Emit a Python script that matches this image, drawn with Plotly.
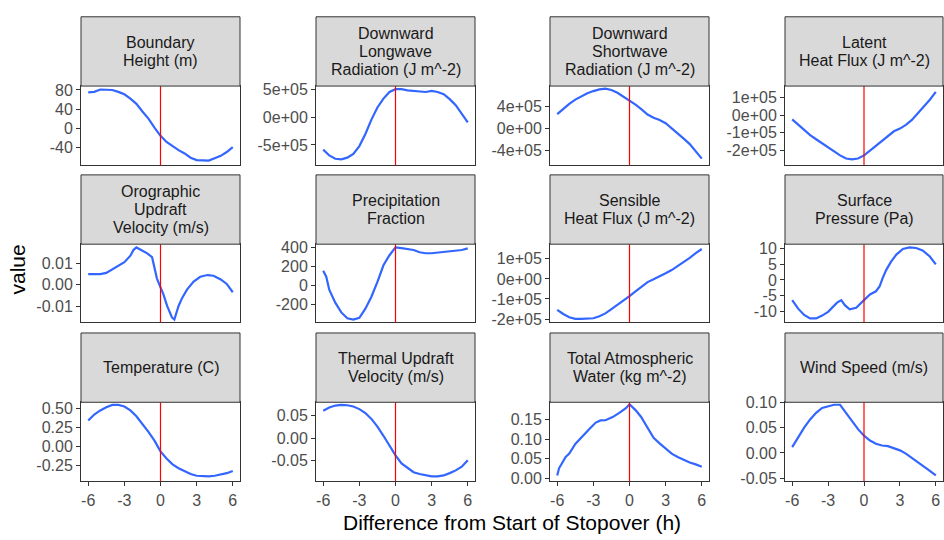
import plotly.graph_objects as go

# ---------------- data ----------------
titles = [
    "Boundary<br>Height (m)",
    "Downward<br>Longwave<br>Radiation (J m^-2)",
    "Downward<br>Shortwave<br>Radiation (J m^-2)",
    "Latent<br>Heat Flux (J m^-2)",
    "Orographic<br>Updraft<br>Velocity (m/s)",
    "Precipitation<br>Fraction",
    "Sensible<br>Heat Flux (J m^-2)",
    "Surface<br>Pressure (Pa)",
    "Temperature (C)",
    "Thermal Updraft<br>Velocity (m/s)",
    "Total Atmospheric<br>Water (kg m^-2)",
    "Wind Speed (m/s)",
]

hours = [-6, -5.5, -5, -4.5, -4, -3.5, -3, -2.5, -2, -1.5, -1, -0.5, 0,
         0.5, 1, 1.5, 2, 2.5, 3, 3.5, 4, 4.5, 5, 5.5, 6]

boundary_height = [75, 76, 81, 81, 80, 76, 71, 62, 51, 35, 20, 1, -16,
                   -29, -38, -46, -53, -62, -67, -68, -68, -63, -58, -50, -40]
longwave = [-5.85e5, -6.9e5, -7.5e5, -7.6e5, -7.3e5, -6.6e5, -5.2e5, -3.0e5, -0.4e5,
            1.8e5, 3.4e5, 4.6e5, 5.1e5, 5.1e5, 4.9e5, 4.8e5, 4.6e5, 4.6e5, 4.8e5,
            4.6e5, 4.2e5, 3.3e5, 2.2e5, 0.7e5, -0.9e5]
shortwave = [2.67e5, 3.67e5, 4.56e5, 5.33e5, 5.9e5, 6.5e5, 6.9e5, 7.2e5, 7.35e5,
             7.1e5, 6.6e5, 5.9e5, 5.15e5, 4.4e5, 3.55e5, 2.6e5, 2.0e5, 1.6e5, 1.0e5,
             0.1e5, -0.77e5, -1.84e5, -2.84e5, -4.2e5, -5.5e5]
latent = [-0.24e5, -0.55e5, -0.85e5, -1.13e5, -1.36e5, -1.6e5, -1.82e5, -2.05e5, -2.27e5,
          -2.45e5, -2.5e5, -2.45e5, -2.27e5, -2.0e5, -1.73e5, -1.42e5, -1.18e5, -0.91e5,
          -0.76e5, -0.55e5, -0.27e5, 0.09e5, 0.45e5, 0.87e5, 1.31e5]

orographic_hours = [-6, -5.5, -5, -4.5, -4, -3.5, -3, -2.5, -2.25, -2, -1.5, -1.1, -0.7,
                    -0.5, -0.3, 0, 0.25, 0.55, 0.95, 1.15, 1.5, 1.8, 2.2, 2.75, 3.3,
                    3.9, 4.4, 5, 5.5, 6]
orographic = [0.0049, 0.0049, 0.0049, 0.0055, 0.007, 0.0087, 0.0104, 0.0134, 0.016,
              0.0172, 0.0157, 0.0145, 0.0127, 0.0082, 0.003, -0.0012, -0.0045, -0.0097,
              -0.015, -0.016, -0.0097, -0.006, -0.0022, 0.0015, 0.0037, 0.0045, 0.0042,
              0.0025, 0.0004, -0.0034]

precip_hours = [-6, -5.75, -5.5, -5, -4.5, -4, -3.5, -3, -2.5, -2, -1.5, -1, -0.5, 0,
                0.5, 1, 1.5, 2, 2.5, 3, 3.5, 4, 4.5, 5, 5.5, 6]
precip = [157, 95, -41, -177, -279, -341, -354, -335, -240, -115, 40, 215, 320, 402,
          395, 385, 375, 351, 341, 341, 348, 361, 368, 375, 375, 392]

sensible = [-1.54e5, -1.75e5, -1.91e5, -1.99e5, -1.99e5, -1.99e5, -1.96e5, -1.86e5, -1.72e5,
            -1.51e5, -1.30e5, -1.07e5, -0.86e5, -0.62e5, -0.37e5, -0.16e5, -0.02e5, 0.11e5,
            0.28e5, 0.44e5, 0.63e5, 0.84e5, 1.05e5, 1.28e5, 1.49e5]

pressure_hours = [-6, -5.5, -5, -4.5, -4, -3.5, -3, -2.5, -2.25, -1.9, -1.6, -1.2, -0.65,
                  0, 0.5, 1, 1.3, 1.55, 1.85, 2.25, 2.7, 3.25, 3.8, 4.35, 4.9, 5.5, 6]
pressure = [-6.4, -9.1, -11.1, -12.2, -12.2, -11.3, -10.1, -8.2, -7.2, -6.4, -8.0, -9.3,
            -8.8, -6.4, -4.6, -3.6, -2.1, 0.5, 3.1, 5.7, 8.0, 9.8, 10.3, 10.1, 9.3, 7.4, 4.9]

temperature = [0.34, 0.42, 0.474, 0.517, 0.547, 0.547, 0.526, 0.474, 0.397, 0.30, 0.19,
               0.073, -0.069, -0.164, -0.241, -0.293, -0.328, -0.37, -0.392, -0.40, -0.40,
               -0.392, -0.379, -0.358, -0.328]
thermal = [0.060, 0.067, 0.0714, 0.0729, 0.0721, 0.0693, 0.0636, 0.055, 0.042, 0.025, 0.005,
           -0.0164, -0.0379, -0.0557, -0.0664, -0.075, -0.079, -0.082, -0.084, -0.084,
           -0.082, -0.077, -0.071, -0.063, -0.0486]

water_hours = [-6, -5.85, -5.3, -5, -4.5, -3.9, -3.35, -2.8, -2.4, -2, -1.4, -0.85, -0.3, 0,
               0.5, 0.95, 1.5, 1.8, 2, 2.5, 3, 3.5, 4, 4.5, 5, 5.5, 6]
water = [0.0067, 0.025, 0.054, 0.0625, 0.0875, 0.108, 0.125, 0.142, 0.1475, 0.148, 0.156,
         0.167, 0.179, 0.189, 0.174, 0.157, 0.128, 0.112, 0.103, 0.089, 0.076, 0.0625,
         0.054, 0.046, 0.04, 0.035, 0.029]

wind = [0.0117, 0.031, 0.0506, 0.0669, 0.0799, 0.0896, 0.0929, 0.0961, 0.0961, 0.0799,
        0.0636, 0.0474, 0.0344, 0.0247, 0.0182, 0.0149, 0.0136, 0.0097, 0.0052, -0.0013,
        -0.0097, -0.0175, -0.026, -0.0357, -0.0448]

series_x = [hours, hours, hours, hours, orographic_hours, precip_hours, hours,
            pressure_hours, hours, hours, water_hours, hours]
series_y = [boundary_height, longwave, shortwave, latent, orographic, precip, sensible,
            pressure, temperature, thermal, water, wind]

y_tickvals = [
    [80, 40, 0, -40],
    [5e5, 0, -5e5],
    [4e5, 0, -4e5],
    [1e5, 0, -1e5, -2e5],
    [0.01, 0, -0.01],
    [400, 200, 0, -200],
    [1e5, 0, -1e5, -2e5],
    [10, 5, 0, -5, -10],
    [0.5, 0.25, 0, -0.25],
    [0.05, 0, -0.05],
    [0.15, 0.10, 0.05, 0.0],
    [0.10, 0.05, 0.0, -0.05],
]
y_ticktext = [
    ["80", "40", "0", "-40"],
    ["5e+05", "0e+00", "-5e+05"],
    ["4e+05", "0e+00", "-4e+05"],
    ["1e+05", "0e+00", "-1e+05", "-2e+05"],
    ["0.01", "0.00", "-0.01"],
    ["400", "200", "0", "-200"],
    ["1e+05", "0e+00", "-1e+05", "-2e+05"],
    ["10", "5", "0", "-5", "-10"],
    ["0.50", "0.25", "0.00", "-0.25"],
    ["0.05", "0.00", "-0.05"],
    ["0.15", "0.10", "0.05", "0.00"],
    ["0.10", "0.05", "0.00", "-0.05"],
]
y_ranges = [
    [-77.5, 88.2],
    [-8.65e5, 5.67e5],
    [-6.7e5, 7.82e5],
    [-2.82e5, 1.64e5],
    [-0.0172, 0.0187],
    [-382, 436],
    [-2.16e5, 1.73e5],
    [-13.4, 11.3],
    [-0.466, 0.582],
    [-0.095, 0.0786],
    [-0.0083, 0.194],
    [-0.0565, 0.101],
]
x_tickvals = [-6, -3, 0, 3, 6]
x_ticktext = ["-6", "-3", "0", "3", "6"]
stopover_start = 0

# ---------------- layout geometry (pixels) ----------------
W, H = 944, 540
col_left = [81, 316, 550, 785]
col_right = [240, 475, 709, 943]
strip_top = [9, 171, 333]
strip_bot = [80, 242, 404]
plot_bot = [161, 322, 485]
STRIP_LINE = 18.5  # px between strip text lines

FONT = "Liberation Sans, Arial, sans-serif"
BORDER = "#333333"
TICKFONT = dict(family=FONT, size=16, color="#4D4D4D")

fig = go.Figure()
shapes = []
annotations = []
layout_axes = {}

for i in range(12):
    r, c = divmod(i, 4)
    n = i + 1
    xa = "x" if n == 1 else f"x{n}"
    ya = "y" if n == 1 else f"y{n}"
    xkey = "xaxis" if n == 1 else f"xaxis{n}"
    ykey = "yaxis" if n == 1 else f"yaxis{n}"

    fig.add_trace(go.Scatter(
        x=series_x[i], y=series_y[i], mode="lines",
        line=dict(color="#3366FF", width=2.2), xaxis=xa, yaxis=ya,
        showlegend=False, hoverinfo="x+y"))

    xdom = [col_left[c] / W, col_right[c] / W]
    ydom = [1 - plot_bot[r] / H, 1 - strip_bot[r] / H]
    bottom_row = (r == 2)
    layout_axes[xkey] = dict(
        domain=xdom, anchor=ya, range=[-6.6, 6.6],
        tickvals=x_tickvals, ticktext=x_ticktext,
        showticklabels=bottom_row, ticks="outside" if bottom_row else "",
        ticklen=4, tickwidth=1, tickcolor=BORDER,
        showline=True, mirror=True, linecolor=BORDER, linewidth=1,
        showgrid=False, zeroline=False, fixedrange=True,
        tickfont=TICKFONT,
    )
    layout_axes[ykey] = dict(
        domain=ydom, anchor=xa, range=y_ranges[i],
        tickvals=y_tickvals[i], ticktext=y_ticktext[i],
        ticks="outside", ticklen=4, tickwidth=1, tickcolor=BORDER,
        showline=True, mirror=True, linecolor=BORDER, linewidth=1,
        showgrid=False, zeroline=False, fixedrange=True,
        tickfont=TICKFONT,
    )

    # red reference line at start of stopover
    shapes.append(dict(type="line", xref=xa, yref=f"{ya} domain",
                       x0=stopover_start, x1=stopover_start, y0=0, y1=1,
                       line=dict(color="red", width=1.2)))
    # strip
    shapes.append(dict(type="rect", xref="paper", yref="paper",
                       x0=col_left[c] / W, x1=col_right[c] / W,
                       y0=1 - strip_bot[r] / H, y1=1 - strip_top[r] / H,
                       fillcolor="#D9D9D9", line=dict(color=BORDER, width=1)))
    lines = titles[i].split("<br>")
    mid = (strip_top[r] + strip_bot[r]) / 2
    for k, txt in enumerate(lines):
        yc = mid + (k - (len(lines) - 1) / 2) * STRIP_LINE
        annotations.append(dict(
            text=txt, xref="paper", yref="paper",
            x=(col_left[c] + col_right[c]) / 2 / W, y=1 - yc / H,
            xanchor="center", yanchor="middle", showarrow=False,
            font=dict(family=FONT, size=16, color="#1A1A1A")))

annotations.append(dict(
    text="Difference from Start of Stopover (h)", xref="paper", yref="paper",
    x=(col_left[0] + col_right[3]) / 2 / W, y=1 - 527 / H,
    xanchor="center", yanchor="middle", showarrow=False,
    font=dict(family=FONT, size=21, color="black")))
annotations.append(dict(
    text="value", xref="paper", yref="paper", x=18 / W, y=1 - 268 / H,
    xanchor="center", yanchor="middle", showarrow=False, textangle=-90,
    font=dict(family=FONT, size=21, color="black")))

fig.update_layout(
    width=W, height=H, margin=dict(l=0, r=0, t=0, b=0),
    paper_bgcolor="white", plot_bgcolor="white",
    shapes=shapes, annotations=annotations, **layout_axes)

fig.write_html("out.html", config={"displayModeBar": False},
               post_script="document.body.style.margin='0';"
                           "document.body.style.overflow='hidden';")
